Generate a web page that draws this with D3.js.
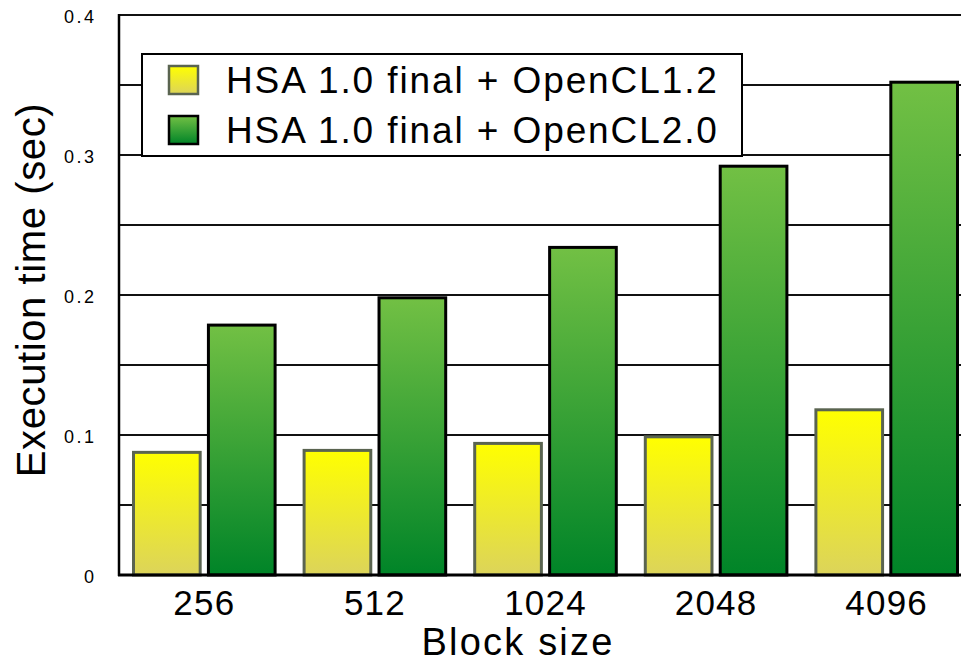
<!DOCTYPE html>
<html>
<head>
<meta charset="utf-8">
<script src="https://cdn.jsdelivr.net/npm/d3@7"></script>
<style>
  body { margin: 0; background: #fff; }
  svg { font-family: "Liberation Sans", Arial, Helvetica, sans-serif; }
</style>
</head>
<body>
<div id="chart"></div>
<script>
const categories = ["256", "512", "1024", "2048", "4096"];
const seriesNames = ["HSA 1.0 final + OpenCL1.2", "HSA 1.0 final + OpenCL2.0"];
const cl12 = [0.0876, 0.089, 0.094, 0.0987, 0.118];
const cl20 = [0.1785, 0.198, 0.234, 0.292, 0.352];
const yTicks = [0, 0.1, 0.2, 0.3, 0.4];
const gridValues = [0.05, 0.1, 0.15, 0.2, 0.25, 0.3, 0.35, 0.4];

const W = 961, H = 660;
const plot = { left: 119, right: 972, top: 15, bottom: 575 };

const svg = d3.select("#chart").append("svg")
  .attr("width", W).attr("height", H);

const defs = svg.append("defs");
const yellowGrad = defs.append("linearGradient").attr("id", "gYellow")
  .attr("x1", 0).attr("y1", 0).attr("x2", 0).attr("y2", 1);
yellowGrad.append("stop").attr("offset", "0%").attr("stop-color", "#ffff00");
yellowGrad.append("stop").attr("offset", "100%").attr("stop-color", "#dcd45a");
const greenGrad = defs.append("linearGradient").attr("id", "gGreen")
  .attr("x1", 0).attr("y1", 0).attr("x2", 0).attr("y2", 1);
greenGrad.append("stop").attr("offset", "0%").attr("stop-color", "#72c044");
greenGrad.append("stop").attr("offset", "100%").attr("stop-color", "#008428");

const series = [
  { name: seriesNames[0], values: cl12, fill: "url(#gYellow)", stroke: "#5a6450" },
  { name: seriesNames[1], values: cl20, fill: "url(#gGreen)", stroke: "#000" }
];

const x0 = d3.scaleBand().domain(categories).range([plot.left, plot.right]);
const x1 = d3.scaleBand().domain([0, 1]).range([14.5, x0.bandwidth() - 14.5]).paddingInner(0.11);
const y = d3.scaleLinear().domain([0, 0.4]).range([plot.bottom, plot.top]);

// gridlines
svg.append("g").selectAll("line")
  .data(gridValues)
  .join("line")
  .attr("x1", plot.left).attr("x2", W)
  .attr("y1", d => y(d)).attr("y2", d => y(d))
  .attr("stroke", "#111").attr("stroke-width", 2);

// y tick labels
svg.append("g").selectAll("text")
  .data(yTicks)
  .join("text")
  .attr("x", 96.5).attr("y", d => y(d) + 8)
  .attr("text-anchor", "end")
  .attr("font-size", 18)
  .attr("letter-spacing", 2.5)
  .text(d => d === 0 ? "0" : d3.format(".1f")(d));

// bars
const groups = svg.append("g").selectAll("g")
  .data(categories)
  .join("g")
  .attr("transform", d => `translate(${x0(d)},0)`);

groups.selectAll("rect")
  .data((d, i) => series.map((s, k) => ({ k, v: s.values[i], s })))
  .join("rect")
  .attr("x", d => x1(d.k))
  .attr("width", x1.bandwidth())
  .attr("y", d => y(d.v))
  .attr("height", d => y(0) - y(d.v))
  .attr("fill", d => d.s.fill)
  .attr("stroke", d => d.s.stroke)
  .attr("stroke-width", 3);

// axis lines
svg.append("line")
  .attr("x1", plot.left).attr("x2", plot.left)
  .attr("y1", plot.top - 1).attr("y2", plot.bottom + 1)
  .attr("stroke", "#000").attr("stroke-width", 2.5);
svg.append("line")
  .attr("x1", plot.left - 1).attr("x2", W)
  .attr("y1", plot.bottom).attr("y2", plot.bottom)
  .attr("stroke", "#000").attr("stroke-width", 3);

// x tick labels
svg.append("g").selectAll("text")
  .data(categories)
  .join("text")
  .attr("x", d => x0(d) + x0.bandwidth() / 2)
  .attr("y", 615)
  .attr("text-anchor", "middle")
  .attr("font-size", 35)
  .attr("letter-spacing", 1.2)
  .text(d => d);

// axis titles
svg.append("text")
  .attr("x", 518).attr("y", 655)
  .attr("text-anchor", "middle")
  .attr("font-size", 38)
  .attr("letter-spacing", 2.2)
  .text("Block size");

svg.append("text")
  .attr("transform", "rotate(-90)")
  .attr("x", -290).attr("y", 45)
  .attr("text-anchor", "middle")
  .attr("font-size", 40)
  .attr("letter-spacing", 0.6)
  .text("Execution time (sec)");

// legend
const legend = svg.append("g");
legend.append("rect")
  .attr("x", 142).attr("y", 54).attr("width", 600).attr("height", 102)
  .attr("fill", "#fff").attr("stroke", "#000").attr("stroke-width", 2);
series.forEach((s, i) => {
  legend.append("rect")
    .attr("x", 169).attr("y", 66 + i * 50).attr("width", 29).attr("height", 28)
    .attr("fill", s.fill).attr("stroke", s.stroke).attr("stroke-width", 2.5);
  legend.append("text")
    .attr("x", 226).attr("y", 93 + i * 50)
    .attr("font-size", 37)
    .attr("letter-spacing", 1.9)
    .text(s.name);
});
</script>
</body>
</html>
